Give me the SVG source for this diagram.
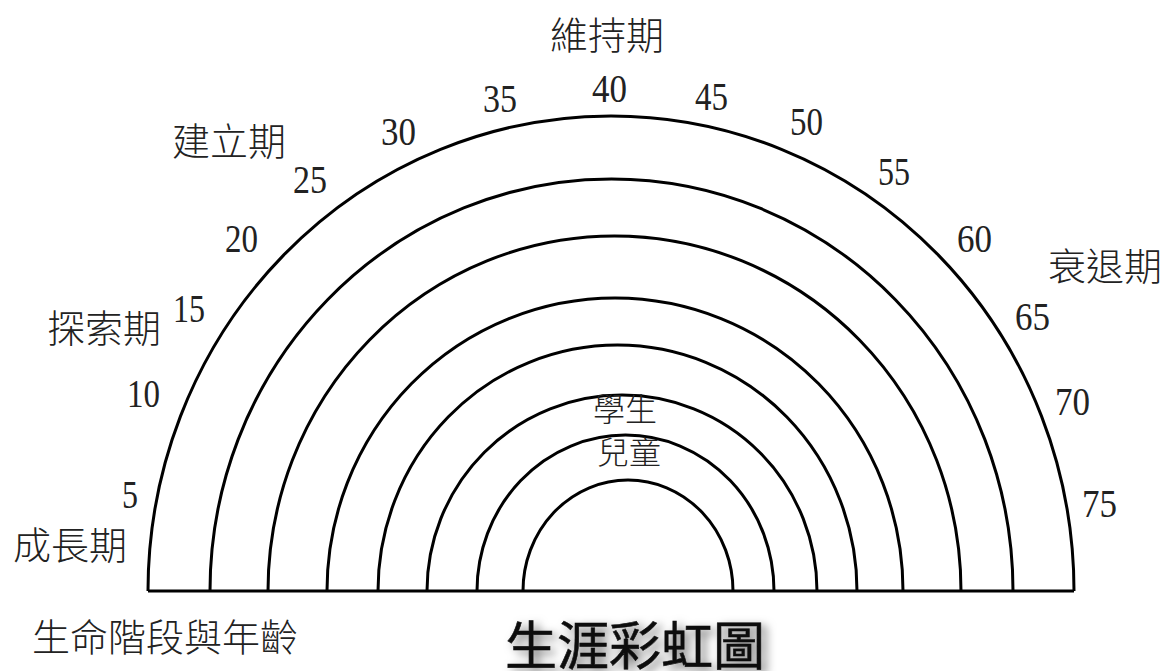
<svg xmlns="http://www.w3.org/2000/svg" width="1168" height="671" viewBox="0 0 1168 671">
<defs>
<style>
.arc{fill:none;stroke:#000;stroke-width:3}
.cjk{font-family:"Noto Sans CJK TC","Noto Sans CJK SC",sans-serif;font-size:38px;font-weight:300;fill:#222}
.num{font-family:"Liberation Serif","DejaVu Serif",serif;font-size:41px;fill:#222}
.small{font-size:32px}
.title{font-family:"Noto Sans CJK TC","Noto Sans CJK SC",sans-serif;font-size:52px;fill:#111;stroke:#111;stroke-width:0.6}
</style>
<filter id="shadow" x="-10%" y="-30%" width="130%" height="180%">
<feDropShadow dx="5" dy="4" stdDeviation="5" flood-color="#000" flood-opacity="0.55"/>
</filter>
</defs>
<rect width="1168" height="671" fill="#fff"/>
<g id="rainbow">
<path class="arc" d="M148 591 A463 475 0 0 1 1074 591"/>
<path class="arc" d="M210 591 A401.5 412 0 0 1 1013 591"/>
<path class="arc" d="M268 591 A346.5 355 0 0 1 961 591"/>
<path class="arc" d="M327 591 A288 293 0 0 1 903 591"/>
<path class="arc" d="M378 591 A239.5 246 0 0 1 857 591"/>
<path class="arc" d="M427 591 A195 196 0 0 1 817 591"/>
<path class="arc" d="M477 591 A148.5 156 0 0 1 774 591"/>
<path class="arc" d="M523 591 A105 111 0 0 1 733 591"/>
<line x1="148" y1="591" x2="1074" y2="591" stroke="#000" stroke-width="3"/>
</g>
<g id="ages">
<text class="num" x="122" y="508" textLength="16" lengthAdjust="spacingAndGlyphs">5</text>
<text class="num" x="127" y="407" textLength="33" lengthAdjust="spacingAndGlyphs">10</text>
<text class="num" x="173" y="322" textLength="32" lengthAdjust="spacingAndGlyphs">15</text>
<text class="num" x="225" y="252" textLength="33" lengthAdjust="spacingAndGlyphs">20</text>
<text class="num" x="293" y="193" textLength="34" lengthAdjust="spacingAndGlyphs">25</text>
<text class="num" x="381" y="145" textLength="35" lengthAdjust="spacingAndGlyphs">30</text>
<text class="num" x="483" y="112" textLength="34" lengthAdjust="spacingAndGlyphs">35</text>
<text class="num" x="592" y="102" textLength="35" lengthAdjust="spacingAndGlyphs">40</text>
<text class="num" x="695" y="110" textLength="33" lengthAdjust="spacingAndGlyphs">45</text>
<text class="num" x="790" y="135" textLength="33" lengthAdjust="spacingAndGlyphs">50</text>
<text class="num" x="878" y="185" textLength="32" lengthAdjust="spacingAndGlyphs">55</text>
<text class="num" x="957" y="252" textLength="35" lengthAdjust="spacingAndGlyphs">60</text>
<text class="num" x="1015" y="330" textLength="35" lengthAdjust="spacingAndGlyphs">65</text>
<text class="num" x="1055" y="415" textLength="35" lengthAdjust="spacingAndGlyphs">70</text>
<text class="num" x="1082" y="517" textLength="35" lengthAdjust="spacingAndGlyphs">75</text>
</g>
<g id="stages">
<text class="cjk" x="550" y="49">維持期</text>
<text class="cjk" x="172" y="155">建立期</text>
<text class="cjk" x="47" y="342">探索期</text>
<text class="cjk" x="13" y="559">成長期</text>
<text class="cjk" x="1048" y="280">衰退期</text>
</g>
<g id="roles">
<text class="cjk small" x="593" y="421">學生</text>
<text class="cjk small" x="597" y="464">兒童</text>
</g>
<g id="axis-label">
<text class="cjk" x="32" y="651">生命階段與年齡</text>
</g>
<g id="title">
<text class="title" x="505" y="665" filter="url(#shadow)">生涯彩虹圖</text>
</g>
</svg>
